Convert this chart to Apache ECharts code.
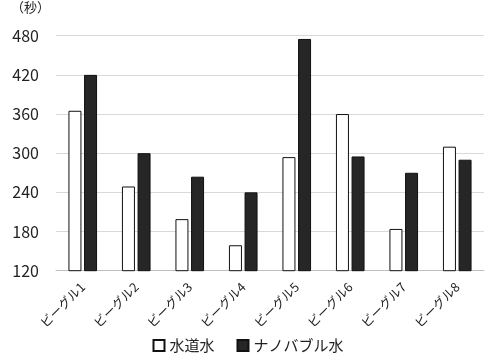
<!DOCTYPE html>
<html><head><meta charset="utf-8">
<script src="https://cdn.jsdelivr.net/npm/echarts@6/dist/echarts.min.js"></script>
<style>html,body{margin:0;padding:0;background:#fff}#c{width:496px;height:362px}</style>
</head><body><div id="c"></div>
<script>
const categories = ['ビーグル1','ビーグル2','ビーグル3','ビーグル4','ビーグル5','ビーグル6','ビーグル7','ビーグル8'];
const tapWater = [365, 249, 199, 159, 294, 360, 184, 310];
const nanoWater = [420, 300, 264, 240, 475, 295, 270, 290];
const seriesNames = ['水道水', 'ナノバブル水'];
const unitLabel = '（秒）';

const font = '"Noto Sans CJK JP", "Noto Sans", sans-serif';
const chart = echarts.init(document.getElementById('c'));
chart.setOption({
  animation: false,
  textStyle: {fontFamily: font},
  grid: {left: 56, right: 12, top: 35.7, bottom: 91.3, containLabel: false},
  graphic: [{type: 'text', left: 11, top: 1, style: {text: unitLabel, font: '13px ' + font, fill: '#222'}}],
  legend: {
    bottom: 4, left: 'center', icon: 'rect', itemWidth: 11, itemHeight: 11, itemGap: 22,
    textStyle: {fontSize: 15, color: '#222', fontFamily: font},
    data: seriesNames
  },
  xAxis: {
    type: 'category', data: categories,
    axisLine: {lineStyle: {color: '#bfbfbf', width: 1}},
    axisTick: {show: false},
    axisLabel: {rotate: 45, fontSize: 12.5, color: '#222', margin: 14, fontFamily: font, interval: 0}
  },
  yAxis: {
    type: 'value', min: 120, max: 480, interval: 60,
    axisLine: {show: false}, axisTick: {show: false},
    splitLine: {lineStyle: {color: '#d9d9d9', width: 1}},
    axisLabel: {fontSize: 16, color: '#222', margin: 17, fontFamily: font}
  },
  series: [
    {name: seriesNames[0], type: 'bar', data: tapWater, barWidth: 13, barGap: '20%',
     itemStyle: {color: '#ffffff', borderColor: '#111', borderWidth: 1}},
    {name: seriesNames[1], type: 'bar', data: nanoWater, barWidth: 13,
     itemStyle: {color: '#262626', borderColor: '#111', borderWidth: 1}}
  ]
});
</script></body></html>
